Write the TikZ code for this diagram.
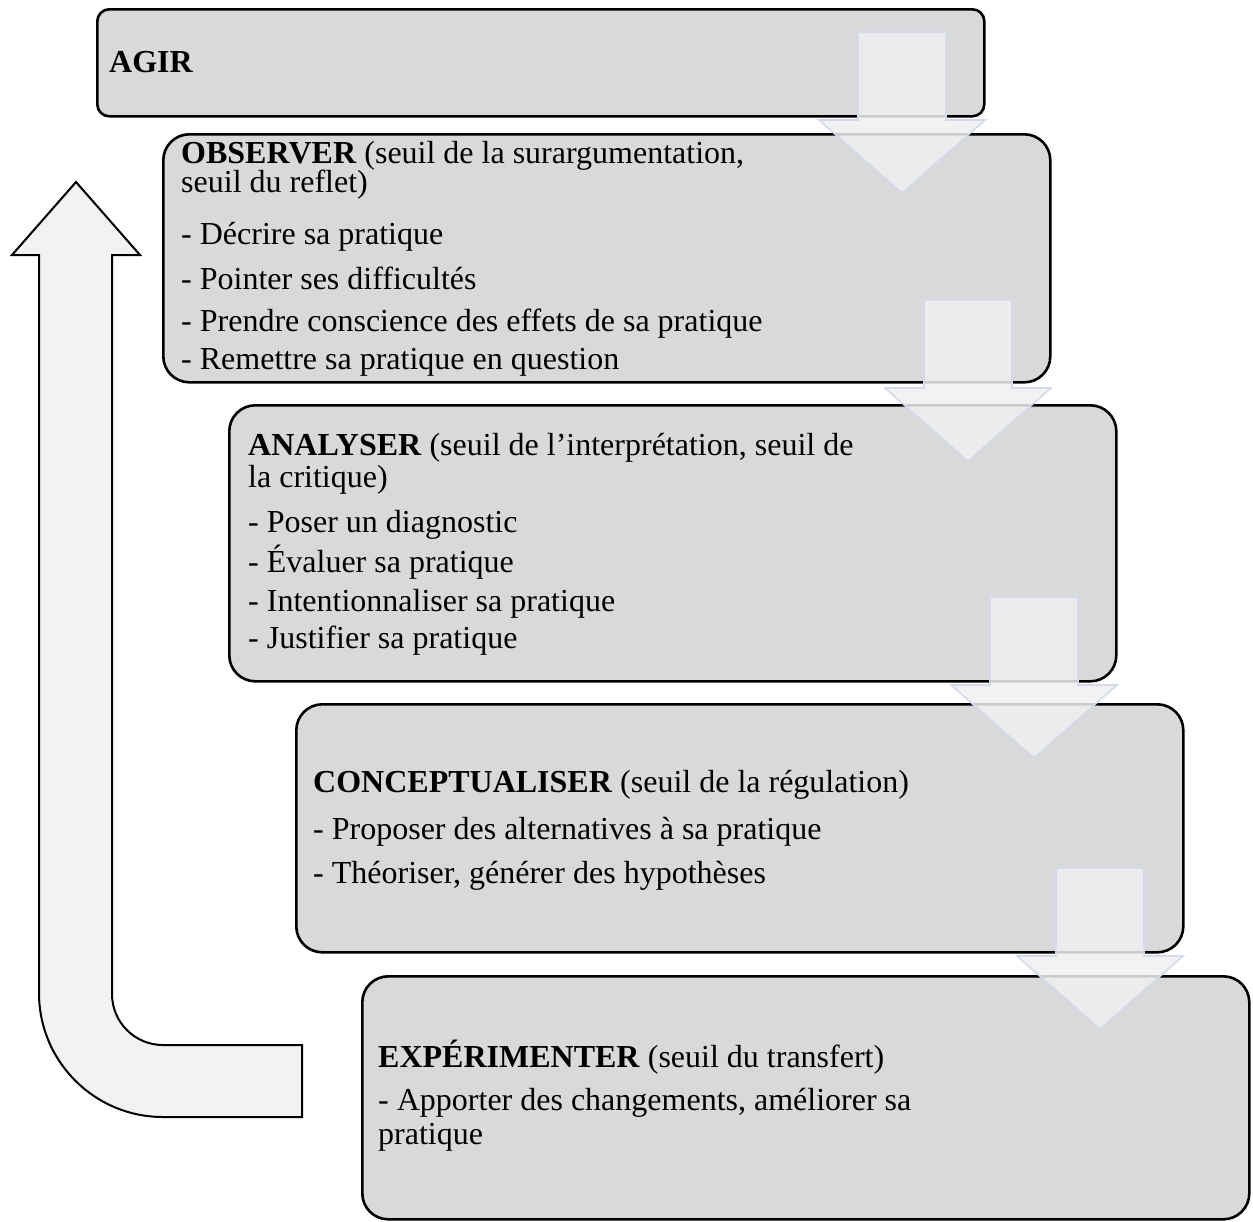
\documentclass[tikz,border=0pt]{standalone}
\usepackage{fontspec}
\setmainfont{Liberation Serif}
\definecolor{boxgray}{HTML}{D9D9D9}
\definecolor{arrowfill}{HTML}{F0F0F0}
\definecolor{arrowline}{HTML}{D3DAEE}
\definecolor{upfill}{HTML}{F2F2F2}
\tikzset{
  stagebox/.style={draw=black, line width=2.6pt, fill=boxgray, rounded corners=26pt,
    anchor=north west, inner sep=0pt, minimum width=887pt},
  txt/.style={anchor=base west, inner sep=0pt, font=\fontsize{32}{38}\selectfont},
  downarrowstyle/.style={draw=arrowline, line width=1.6pt, fill=arrowfill, fill opacity=0.85, line join=miter},
  bigarrow/.style={draw=black, line width=2pt, fill=upfill, line join=miter},
  pics/downarr/.style={code={
    \path[downarrowstyle] (-44,0) -- (44,0) -- (44,88) -- (83,88) -- (0,161)
      -- (-83,88) -- (-44,88) -- cycle;}}
}
\begin{document}
\begin{tikzpicture}[x=1pt, y=-1pt]
\useasboundingbox (0,0) rectangle (1253,1221);
% stage boxes
\node[stagebox, rounded corners=12pt, minimum height=107pt] (agir) at (96,8) {};
\node[stagebox, minimum height=248pt] (observer) at (162,133) {};
\node[stagebox, minimum height=276pt] (analyser) at (228,404) {};
\node[stagebox, minimum height=248pt] (concept) at (295,703) {};
\node[stagebox, minimum height=243pt] (experim) at (361,975) {};
% texts
\node[txt] (tagir) at (109,72) {\textbf{AGIR}};
\node[txt] (to1) at (181,163) {\textbf{OBSERVER} (seuil de la surargumentation,};
\node[txt] (to2) at (181,192) {seuil du reflet)};
\node[txt] (to3) at (181,244) {- Décrire sa pratique};
\node[txt] (to4) at (181,289) {- Pointer ses difficultés};
\node[txt] (to5) at (181,331) {- Prendre conscience des effets de sa pratique};
\node[txt] (to6) at (181,369) {- Remettre sa pratique en question};
\node[txt] (ta1) at (248,455) {\textbf{ANALYSER} (seuil de l’interprétation, seuil de};
\node[txt] (ta2) at (248,487) {la critique)};
\node[txt] (ta3) at (248,532) {- Poser un diagnostic};
\node[txt] (ta4) at (248,572) {- Évaluer sa pratique};
\node[txt] (ta5) at (248,611) {- Intentionnaliser sa pratique};
\node[txt] (ta6) at (248,648) {- Justifier sa pratique};
\node[txt] (tc1) at (313,792) {\textbf{CONCEPTUALISER} (seuil de la régulation)};
\node[txt] (tc2) at (313,839) {- Proposer des alternatives à sa pratique};
\node[txt] (tc3) at (313,883) {- Théoriser, générer des hypothèses};
\node[txt] (te1) at (378,1067) {\textbf{EXPÉRIMENTER} (seuil du transfert)};
\node[txt] (te2) at (378,1110) {- Apporter des changements, améliorer sa};
\node[txt] (te3) at (378,1144) {pratique};
% down arrows
\pic at (902,32) {downarr};
\pic at (968,300) {downarr};
\pic at (1034,597) {downarr};
\pic at (1100,868) {downarr};
% big return arrow
\draw[bigarrow] (302,1045) -- (163,1045)
  .. controls (134.8,1045) and (112,1022.2) .. (112,994)
  -- (112,255) -- (140,255) -- (76,182) -- (12,255) -- (39,255) -- (39,993)
  .. controls (39,1061.5) and (94.5,1117) .. (163,1117)
  -- (302,1117) -- cycle;
\end{tikzpicture}
\end{document}
